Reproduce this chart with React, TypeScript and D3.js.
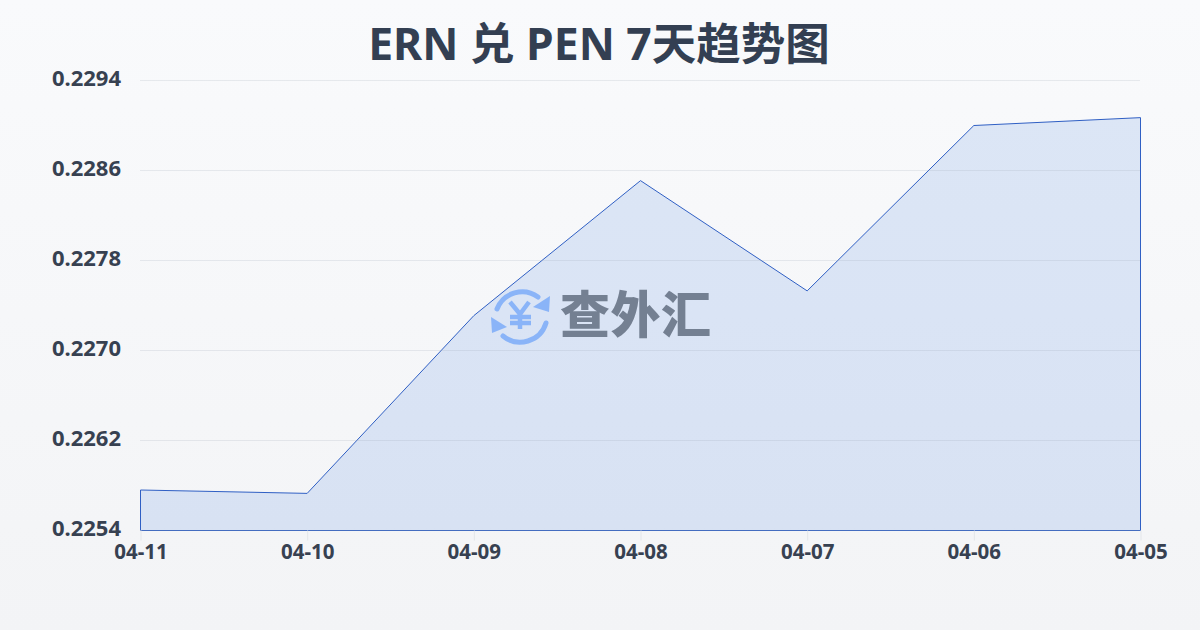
import React, { useEffect, useRef } from "react";
import * as d3 from "d3";

const dates = ["04-11", "04-10", "04-09", "04-08", "04-07", "04-06", "04-05"];
const rates = [0.22576, 0.22573, 0.22731, 0.22851, 0.22753, 0.229, 0.22907];
const yTicks = [0.2254, 0.2262, 0.227, 0.2278, 0.2286, 0.2294];
const titleText = "ERN 兑 PEN 7天趋势图";
const FONT = "'Noto Sans','Noto Sans CJK SC',sans-serif";

export default function App() {
  const axisRef = useRef<SVGGElement>(null);
  const x = d3.scalePoint<string>().domain(dates).range([140.5, 1140.5]);
  const y = d3.scaleLinear().domain([0.2254, 0.2294]).range([530.5, 80.5]);
  const px = (_: number, i: number) => x(dates[i]) as number;
  const area = d3.area<number>().x(px).y0(y(0.2254)).y1((d) => y(d));
  const line = d3.line<number>().x(px).y((d) => y(d));

  useEffect(() => {
    if (!axisRef.current) return;
    const g = d3.select(axisRef.current);
    g.selectAll("*").remove();
    g.attr("transform", "translate(0,530.5)")
      .call(d3.axisBottom(x).tickSize(10).tickPadding(4) as any);
    g.select(".domain").remove();
    g.selectAll(".tick line").attr("stroke", "#e3e6ea").attr("stroke-width", 1);
    g.selectAll(".tick text")
      .attr("fill", "#374151")
      .attr("font-family", FONT)
      .attr("font-size", 20.5)
      .attr("font-weight", 700);
  }, []);

  return (
    <svg
      width={1200}
      height={630}
      viewBox="0 0 1200 630"
      style={{ position: "fixed", left: 0, top: 0, display: "block" }}
    >
      <defs>
        <linearGradient id="bg" x1="0" y1="0" x2="0" y2="1">
          <stop offset="0" stopColor="#f9fafc" />
          <stop offset="1" stopColor="#f3f4f6" />
        </linearGradient>
      </defs>
      <rect width={1200} height={630} fill="url(#bg)" />
      <text
        x={599}
        y={60}
        textAnchor="middle"
        fontFamily={FONT}
        fontSize={44.5}
        fontWeight={700}
        fill="#333f52"
      >
        {titleText}
      </text>
      <path d={area(rates) as string} fill="#3b78e0" fillOpacity={0.15} />
      <path
        d={`${line(rates)}V${y(0.2254)}H${x(dates[0])}Z`}
        fill="none"
        stroke="#2f5fc4"
        strokeWidth={1}
      />
      {yTicks.map((t) => (
        <g key={t}>
          <line x1={140} x2={1140} y1={y(t)} y2={y(t)} stroke="#9aa3b2" strokeOpacity={0.2} />
          <text
            x={121}
            y={y(t) + 5}
            textAnchor="end"
            fontFamily={FONT}
            fontSize={22}
            fontWeight={700}
            fill="#374151"
          >
            {t.toFixed(4)}
          </text>
        </g>
      ))}
      <g ref={axisRef} />
      <g fill="none" stroke="#8ab4f8" strokeWidth={5} strokeLinecap="round">
        <path d="M497 309A27 27 0 0 1 538 297" />
        <path d="M546 323A27 27 0 0 1 503 336" />
      </g>
      <g fill="#8ab4f8">
        <polygon points="550,296 549,312 533,307" />
        <polygon points="491,317 492,333 507,327" />
      </g>
      <g fill="none" stroke="#8ab4f8" strokeWidth={4.5}>
        <path d="M510 302L520 314L529 302M520 314V329M510 317H531M510 323H531" />
      </g>
      <text
        x={560}
        y={333}
        fontFamily="'Noto Sans CJK SC',sans-serif"
        fontSize={50}
        fontWeight={900}
        fill="#6f7a8c"
        fillOpacity={0.95}
        textLength={151}
      >
        查外汇
      </text>
    </svg>
  );
}
